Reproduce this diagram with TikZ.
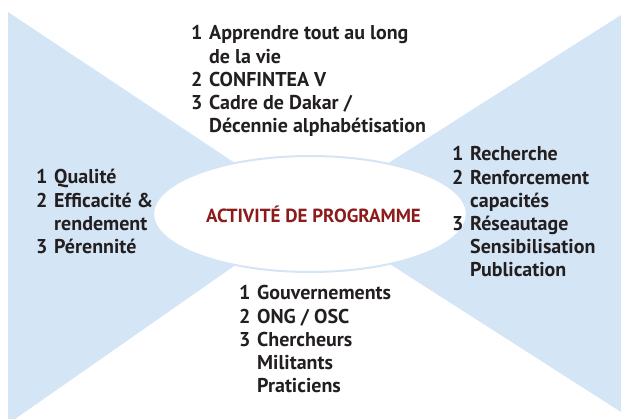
\documentclass[tikz,border=0pt]{standalone}
\usepackage{fontspec}
\usepackage{xcolor}
\usetikzlibrary{shapes.geometric}
\setmainfont{PT Sans}
\newfontfamily\blockfont{PT Sans}
\definecolor{BowBlue}{RGB}{212,229,245}
\definecolor{ProgRed}{RGB}{140,28,28}
\definecolor{TextGrey}{RGB}{35,31,32}

\begin{document}
\begin{tikzpicture}[x=1pt,y=1pt,yscale=-1,xscale=1,
	listtext/.style={anchor=base west, inner sep=0pt, text=TextGrey, font=\blockfont\bfseries\fontsize{20}{23.1}\selectfont},
	progcircle/.style={ellipse, draw=BowBlue, line width=2pt, fill=white, minimum width=236pt, minimum height=116pt, inner sep=0pt}]
		\useasboundingbox (0,0) rectangle (621,419);

		% Draw the blue triangle on the left
		\fill[BowBlue] (8,12) -- (310,213) -- (15,419) -- (8,419) -- cycle;

		% Draw the blue triangle on the right
		\fill[BowBlue] (621,15) -- (310,213) -- (621,412) -- cycle;

		% The ellipse in the middle with the title in red
		\node[progcircle] (prog) at (310,214) {\blockfont\bfseries\fontsize{19}{22}\selectfont\color{ProgRed}\hspace{7pt}ACTIVITÉ DE PROGRAMME};

		% The list above the ellipse
		\node[listtext] (cadres) at (191,40) {\begin{tabular}[t]{@{}p{18pt}@{}l@{}}
			1 & Apprendre tout au long\\
			  & de la vie\\
			2 & CONFINTEA V\\
			3 & Cadre de Dakar /\\
			  & Décennie alphabétisation
		\end{tabular}};

		% The list on the left
		\node[listtext] (criteres) at (36,184) {\begin{tabular}[t]{@{}p{18pt}@{}l@{}}
			1 & Qualité\\
			2 & Efficacité \&\\
			  & rendement\\
			3 & Pérennité
		\end{tabular}};

		% The list on the right
		\node[listtext] (modalites) at (452,161) {\begin{tabular}[t]{@{}p{18pt}@{}l@{}}
			1 & Recherche\\
			2 & Renforcement\\
			  & capacités\\
			3 & Réseautage\\
			  & Sensibilisation\\
			  & Publication
		\end{tabular}};

		% The list below the ellipse
		\node[listtext] (acteurs) at (239,300) {\begin{tabular}[t]{@{}p{18pt}@{}l@{}}
			1 & Gouvernements\\
			2 & ONG / OSC\\
			3 & Chercheurs\\
			  & Militants\\
			  & Praticiens
		\end{tabular}};
	\end{tikzpicture}
\end{document}
